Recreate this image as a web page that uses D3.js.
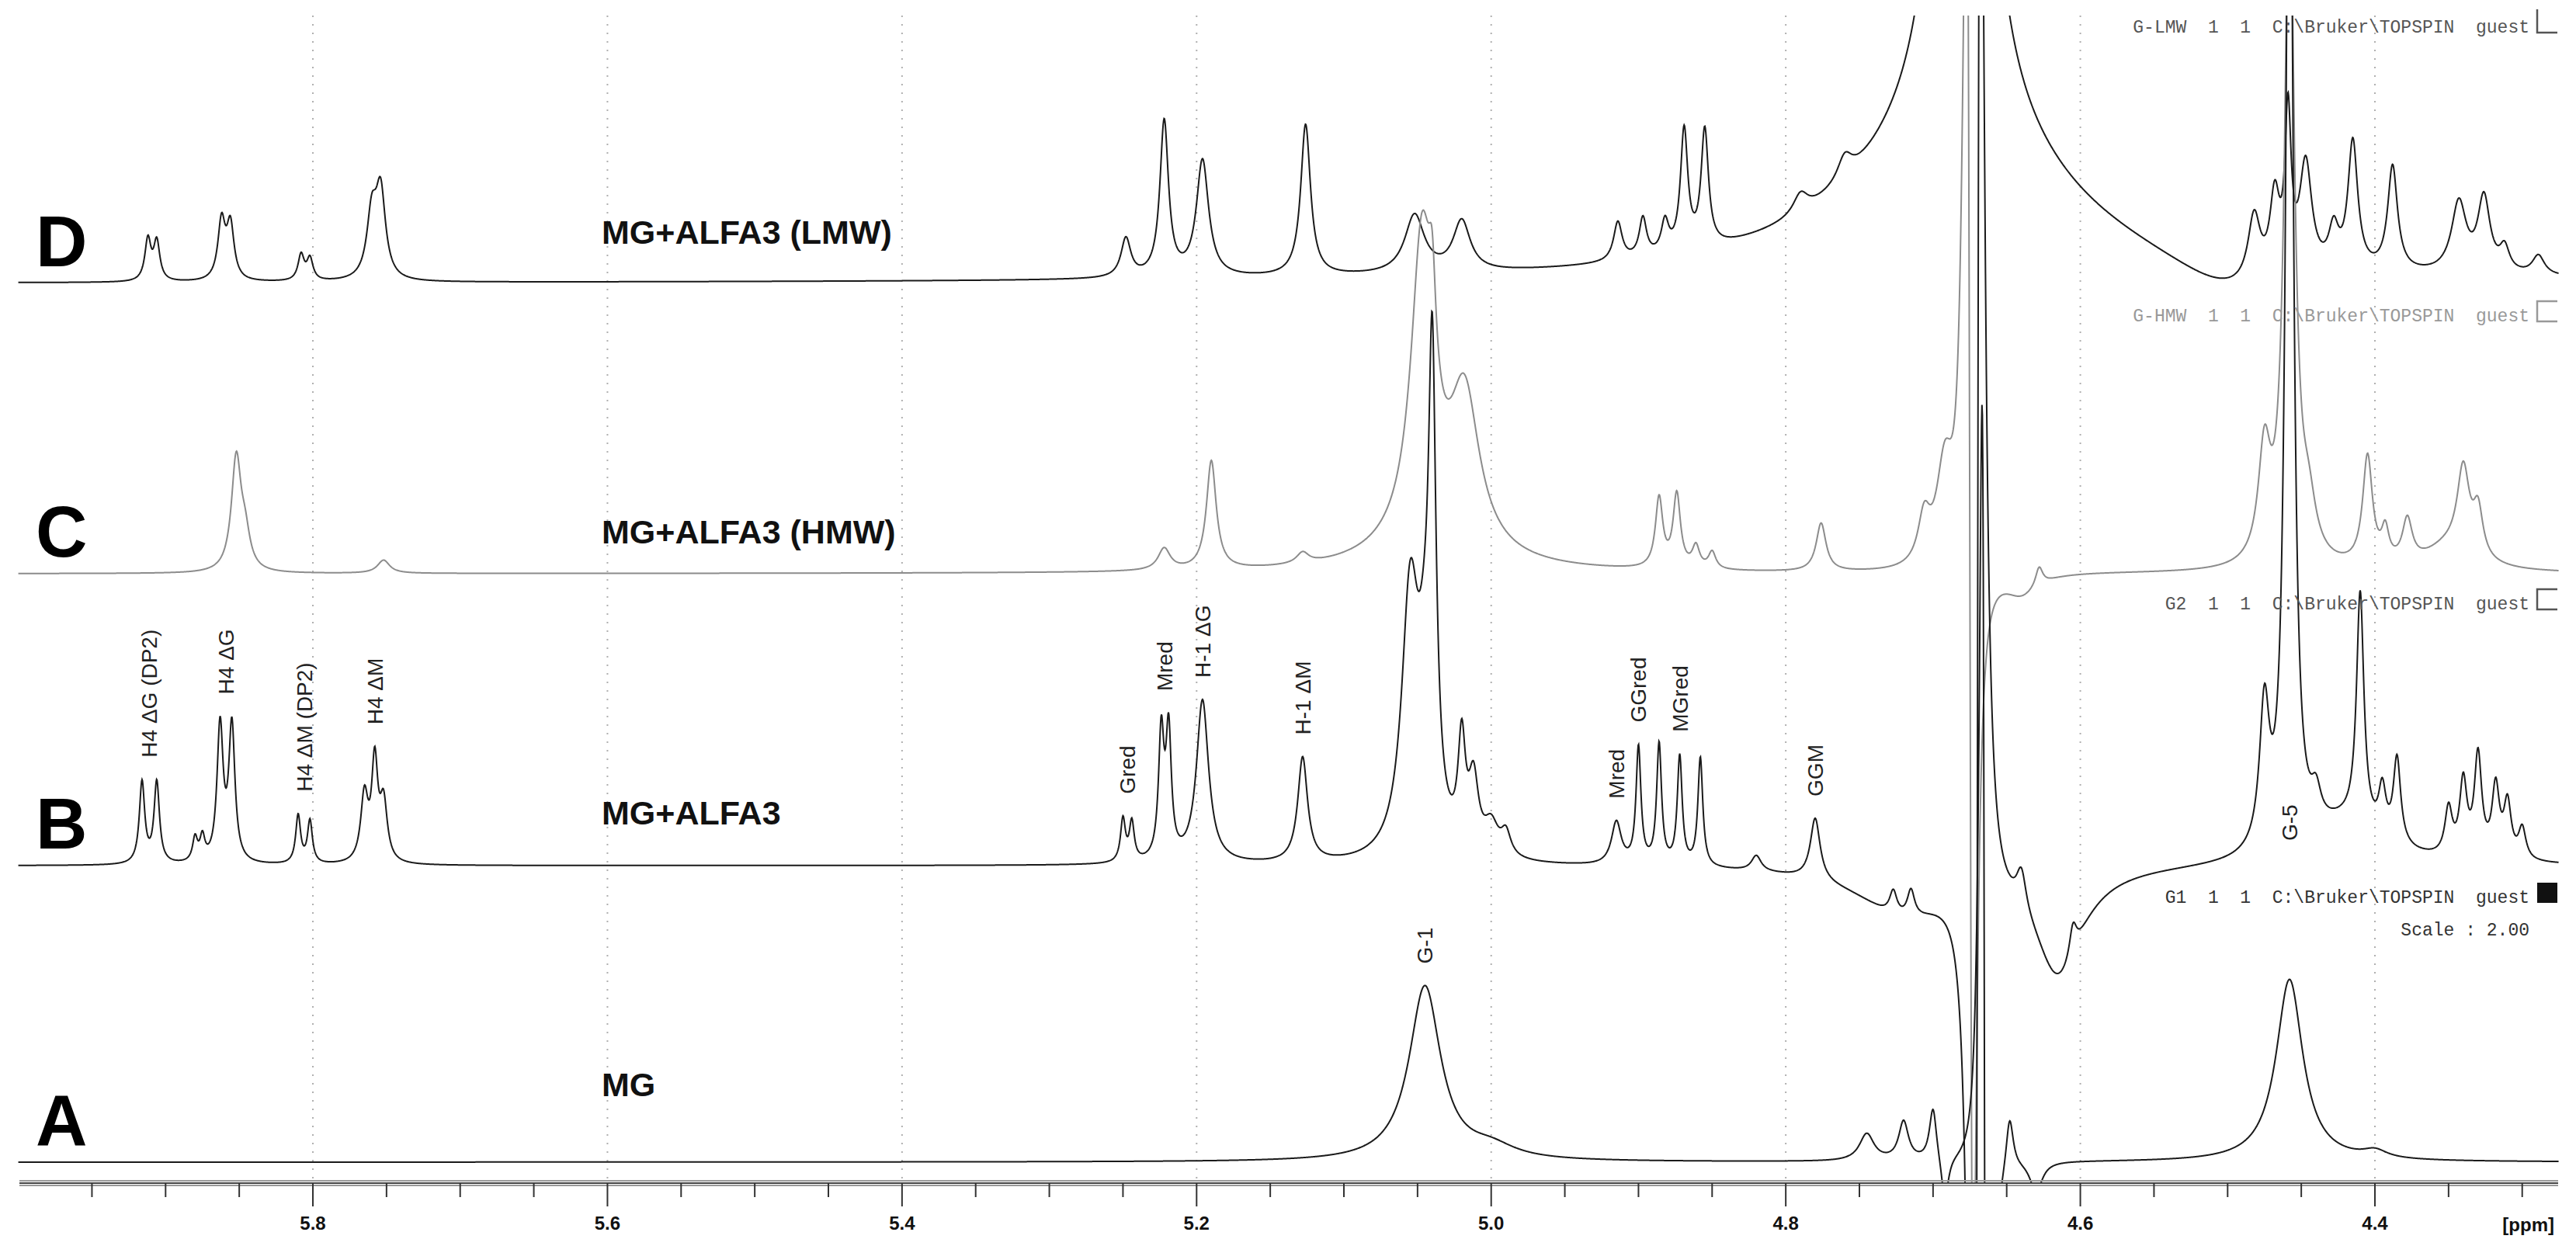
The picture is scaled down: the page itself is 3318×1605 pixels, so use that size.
<!DOCTYPE html>
<html>
<head>
<meta charset="utf-8">
<script src="https://cdn.jsdelivr.net/npm/d3@7"></script>
<style>
  body { margin: 0; background: #fff; }
  svg { display: block; }
</style>
</head>
<body>
<svg id="chart" width="3318" height="1605"></svg>
<script>
// peak tables: [ppm, intensity, half width (ppm), shape]
// shape 'a' = absorption, 'd' = dispersive water residue
var peaksD = [
    [5.912,53,.0025,'a'],[5.906,50,.0025,'a'],[5.862,75,.003,'a'],[5.856,70,.003,'a'],
    [5.808,33,.0025,'a'],[5.802,28,.0025,'a'],[5.760,80,.004,'a'],[5.754,110,.004,'a'],
    [5.248,50,.004,'a'],[5.222,200,.0035,'a'],[5.196,150,.005,'a'],[5.126,195,.004,'a'],
    [5.052,75,.008,'a'],[5.020,65,.007,'a'],[4.914,50,.0035,'a'],[4.897,50,.003,'a'],
    [4.882,40,.003,'a'],[4.869,155,.003,'a'],[4.855,150,.003,'a'],[4.79,25,.006,'a'],
    [4.76,30,.006,'a'],[4.682,200,.085,'a'],[4.68,3000,.008,'a'],[4.50,-45,.05,'a'],
    [4.482,85,.005,'a'],[4.468,100,.004,'a'],[4.459,200,.0025,'a'],[4.447,140,.005,'a'],
    [4.428,50,.004,'a'],[4.415,165,.004,'a'],[4.388,135,.004,'a'],[4.343,90,.006,'a'],
    [4.326,95,.005,'a'],[4.312,30,.004,'a'],[4.289,25,.005,'a']
];
var peaksC = [
    [5.852,145,.004,'a'],[5.846,40,.004,'a'],[5.752,17,.005,'a'],[5.222,28,.005,'a'],
    [5.190,140,.004,'a'],[5.128,14,.005,'a'],[5.04,40,.04,'a'],[5.047,380,.009,'a'],
    [5.040,120,.003,'a'],[5.018,190,.012,'a'],[4.886,90,.003,'a'],[4.874,95,.003,'a'],
    [4.861,28,.003,'a'],[4.850,22,.003,'a'],[4.776,62,.004,'a'],[4.706,60,.005,'a'],
    [4.692,130,.007,'a'],[4.675,1500,.004,'d'],[4.64,-30,.015,'a'],[4.628,25,.003,'a'],
    [4.475,140,.005,'a'],[4.458,900,.004,'a'],
    [4.445,60,.006,'a'],[4.405,140,.004,'a'],[4.393,40,.003,'a'],[4.378,55,.004,'a'],
    [4.35,30,.02,'a'],[4.340,110,.005,'a'],[4.330,60,.004,'a']
];
var peaksB = [
    [5.916,105,.0022,'a'],[5.906,105,.0022,'a'],[5.880,30,.002,'a'],[5.875,30,.002,'a'],
    [5.863,175,.0025,'a'],[5.855,175,.0025,'a'],[5.810,62,.002,'a'],[5.802,55,.002,'a'],
    [5.765,85,.003,'a'],[5.758,125,.0025,'a'],[5.752,75,.003,'a'],[5.250,55,.002,'a'],
    [5.244,50,.002,'a'],[5.224,160,.0022,'a'],[5.219,160,.0022,'a'],[5.196,210,.005,'a'],
    [5.128,135,.004,'a'],[5.055,330,.007,'a'],[5.045,150,.006,'a'],[5.040,560,.003,'a'],
    [5.020,135,.003,'a'],[5.012,90,.004,'a'],[5.0,40,.006,'a'],[4.99,30,.004,'a'],
    [4.915,55,.004,'a'],[4.900,150,.002,'a'],[4.886,155,.002,'a'],[4.872,140,.002,'a'],
    [4.858,140,.002,'a'],[4.82,20,.004,'a'],[4.78,80,.004,'a'],[4.72,-60,.04,'a'],
    [4.727,30,.003,'a'],[4.715,35,.003,'a'],[4.67,-2500,.004,'d'],[4.615,-140,.02,'a'],
    [4.64,50,.004,'a'],[4.605,40,.003,'a'],[4.42,50,.03,'a'],[4.475,180,.004,'a'],
    [4.458,1500,.003,'a'],[4.44,40,.004,'a'],[4.41,300,.003,'a'],[4.395,60,.003,'a'],
    [4.385,110,.003,'a'],[4.35,60,.003,'a'],[4.34,95,.003,'a'],[4.33,130,.003,'a'],
    [4.318,90,.003,'a'],[4.31,70,.003,'a'],[4.30,40,.003,'a']
];
var peaksA = [
    [5.045,225,.013,'a'],[5.0,15,.02,'a'],[4.745,35,.006,'a'],[4.72,50,.004,'a'],
    [4.70,70,.003,'a'],[4.692,-60,.003,'a'],[4.665,1500,.003,'d'],[4.648,70,.003,'a'],
    [4.63,-40,.005,'a'],[4.458,235,.011,'a'],[4.40,10,.01,'a']
];

var spectra = [
    {letter: "D", name: "MG+ALFA3 (LMW)", peaks: peaksD, color: "#1a1a1a",
     info: "G-LMW  1  1  C:\\Bruker\\TOPSPIN  guest", infoColor: "#555", mark: "L"},
    {letter: "C", name: "MG+ALFA3 (HMW)", peaks: peaksC, color: "#8c8c8c",
     info: "G-HMW  1  1  C:\\Bruker\\TOPSPIN  guest", infoColor: "#999", mark: "box"},
    {letter: "B", name: "MG+ALFA3", peaks: peaksB, color: "#1a1a1a",
     info: "G2  1  1  C:\\Bruker\\TOPSPIN  guest", infoColor: "#555", mark: "box"},
    {letter: "A", name: "MG", peaks: peaksA, color: "#1a1a1a",
     info: "G1  1  1  C:\\Bruker\\TOPSPIN  guest", infoColor: "#333", mark: "fill"}
];

var labelsB = [
    [5.911,"H4 ΔG (DP2)"],[5.859,"H4 ΔG"],[5.806,"H4 ΔM (DP2)"],[5.758,"H4 ΔM"],
    [5.247,"Gred"],[5.222,"Mred"],[5.196,"H-1 ΔG"],[5.128,"H-1 ΔM"],
    [4.915,"Mred"],[4.900,"GGred"],[4.872,"MGred"],[4.78,"GGM"],[4.458,"G-5"]
];
var labelsA = [[5.045,"G-1"]];

var majorTicks = [5.8,5.6,5.4,5.2,5.0,4.8,4.6,4.4];

// layout
var svg = d3.select("#chart");
var baseY = [365, 739, 1115, 1497];
var nameY = [314, 700, 1062, 1412];
var infoY = [42, 414, 785, 1163];
var axisY = 1524;
var x = d3.scaleLinear().domain([5.8, 4.4]).range([403, 3059]);
var ppmLeft = 6.0, ppmRight = 4.275;

function signal(peaks, p){
    var s = 0;
    peaks.forEach(function(k){
        var d = p - k[0], g = k[2], q = g*g + d*d;
        if (k[3] == 'd') s += k[1] * 2 * g*g*g * d / (q*q);
        else s += k[1] * g * g / q;
    });
    return s;
}

var ppmGrid = d3.range(ppmLeft, ppmRight, -0.0003);

svg.append("clipPath").attr("id", "plotclip")
    .append("rect").attr("x", 20).attr("y", 20)
    .attr("width", x(ppmRight) - 20).attr("height", axisY - 20);

// dotted grid
svg.append("g").selectAll("line").data(majorTicks).join("line")
    .attr("x1", d => x(d)).attr("x2", d => x(d))
    .attr("y1", 20).attr("y2", axisY)
    .attr("stroke", "#b0b0b0").attr("stroke-width", 2)
    .attr("stroke-dasharray", "2,9");

// spectra
var plot = svg.append("g").attr("clip-path", "url(#plotclip)");
spectra.forEach(function(s, i){
    var y = d3.scaleLinear().domain([0, 1]).range([baseY[i], baseY[i] - 1]);
    var line = d3.line().x(p => x(p)).y(p => y(signal(s.peaks, p)));
    plot.append("path").datum(ppmGrid).attr("d", line)
        .attr("fill", "none").attr("stroke", s.color).attr("stroke-width", 2);
    s.y = y;

    svg.append("text").attr("x", 46).attr("y", baseY[i] - 22)
        .attr("font-family", "Liberation Sans, Arial, sans-serif")
        .attr("font-weight", "bold").attr("font-size", 92).attr("fill", "#000")
        .text(s.letter);
    svg.append("text").attr("x", 775).attr("y", nameY[i])
        .attr("font-family", "Liberation Sans, Arial, sans-serif")
        .attr("font-weight", "bold").attr("font-size", 43).attr("fill", "#111")
        .text(s.name);

    svg.append("text").attr("x", 3258).attr("y", infoY[i])
        .attr("text-anchor", "end")
        .attr("font-family", "Liberation Mono, DejaVu Sans Mono, monospace")
        .attr("font-size", 23).attr("fill", s.infoColor)
        .style("white-space", "pre")
        .text(s.info);
    var mx = 3268, my = infoY[i];
    if (s.mark == "L") {
        svg.append("path").attr("d", `M${mx},${my-30}V${my}H${mx+26}`)
            .attr("fill", "none").attr("stroke", "#555").attr("stroke-width", 2.5);
    } else if (s.mark == "box") {
        svg.append("path").attr("d", `M${mx+26},${my-26}H${mx}V${my}H${mx+26}`)
            .attr("fill", "none").attr("stroke", s.infoColor).attr("stroke-width", 2.5);
    } else {
        svg.append("rect").attr("x", mx).attr("y", my - 26).attr("width", 26).attr("height", 26)
            .attr("fill", "#111");
    }
});

svg.append("text").attr("x", 3258).attr("y", 1205).attr("text-anchor", "end")
    .attr("font-family", "Liberation Mono, DejaVu Sans Mono, monospace")
    .attr("font-size", 23).attr("fill", "#333").style("white-space", "pre")
    .text("Scale : 2.00");

// peak labels, sitting just above the highest point near the peak
function addLabels(list, s, floorY){
    svg.append("g").selectAll("text").data(list).join("text")
        .attr("transform", function(d){
            var top = d3.max(d3.range(d[0] - 0.007, d[0] + 0.007, 0.0005), p => signal(s.peaks, p));
            var yv = s.y(top) - 28;
            if (yv < 40) yv = floorY;
            return `translate(${x(d[0]) + 10},${yv}) rotate(-90)`;
        })
        .attr("font-family", "Liberation Sans, Arial, sans-serif")
        .attr("font-size", 28).attr("fill", "#222")
        .text(d => d[1]);
}
addLabels(labelsB, spectra[2], 1083);
addLabels(labelsA, spectra[3], 1253);

// axis
var axisG = svg.append("g");
[-3, 0, 3].forEach(function(o){
    axisG.append("line").attr("x1", 25).attr("x2", 3295)
        .attr("y1", axisY + o).attr("y2", axisY + o)
        .attr("stroke", o == 0 ? "#444" : "#999").attr("stroke-width", 2);
});
var minor = d3.range(5.95, 4.28, -0.05).map(d => +d.toFixed(2));
axisG.selectAll("line.minor").data(minor).join("line").attr("class", "minor")
    .attr("x1", d => x(d)).attr("x2", d => x(d))
    .attr("y1", axisY).attr("y2", d => majorTicks.indexOf(d) >= 0 ? axisY + 30 : axisY + 18)
    .attr("stroke", "#333").attr("stroke-width", 2);
axisG.selectAll("text").data(majorTicks).join("text")
    .attr("x", d => x(d)).attr("y", axisY + 60)
    .attr("text-anchor", "middle")
    .attr("font-family", "Liberation Sans Narrow, Liberation Sans, Arial, sans-serif")
    .attr("font-weight", "bold").attr("font-size", 24).attr("fill", "#111")
    .text(d3.format(".1f"));
axisG.append("text").attr("x", 3290).attr("y", axisY + 62).attr("text-anchor", "end")
    .attr("font-family", "Liberation Sans Narrow, Liberation Sans, Arial, sans-serif")
    .attr("font-weight", "bold").attr("font-size", 24).attr("fill", "#111")
    .text("[ppm]");
</script>
</body>
</html>
